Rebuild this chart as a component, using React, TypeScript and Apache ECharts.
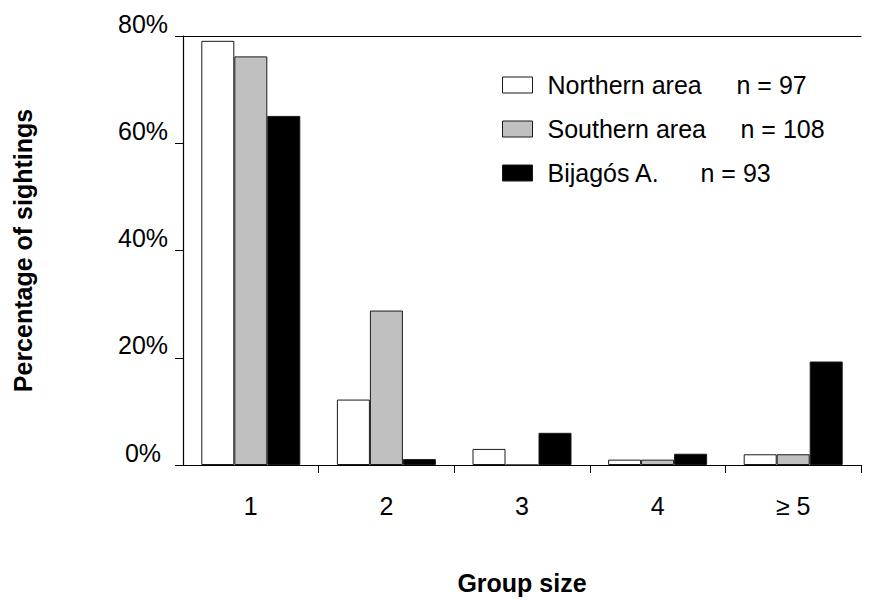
import React, { useEffect, useRef } from "react";
import * as echarts from "echarts";

const categories = ["1", "2", "3", "4", "\u2265 5"];
const northern = [79.1, 12.2, 3.0, 1.0, 2.0];
const southern = [76.2, 28.8, 0, 1.0, 2.0];
const bijagos = [65.1, 1.1, 6.0, 2.1, 19.3];
const seriesNames = ["Northern area", "Southern area", "Bijagós A."];
const seriesN = ["n = 97", "n = 108", "n = 93"];
const yTicks = [0, 20, 40, 60, 80];

const FONT = "Liberation Sans, Arial, Helvetica, sans-serif";

export default function App() {
  const ref = useRef<HTMLDivElement>(null);
  useEffect(() => {
    if (!ref.current) return;
    const chart = echarts.init(ref.current, undefined, { renderer: "svg" });
    const border = { borderColor: "#1a1a1a", borderWidth: 1 };
    const mk = (name: string, data: number[], color: string) => ({
      name,
      type: "bar",
      data,
      barWidth: 33,
      barGap: "0%",
      itemStyle: { color, ...border },
    });
    chart.setOption({
      animation: false,
      backgroundColor: "#fff",
      textStyle: { fontFamily: FONT },
      grid: { left: 183, top: 36, width: 678, height: 429 },
      legend: {
        orient: "vertical",
        left: 502,
        top: 72,
        padding: 0,
        itemWidth: 30,
        itemHeight: 16,
        itemGap: 18,
        icon: "rect",
        itemStyle: { borderColor: "#1a1a1a", borderWidth: 1 },
        formatter: (name: string) => {
          const i = seriesNames.indexOf(name);
          return `{s|}{a${i}|${name}}{b|${seriesN[i]}}`;
        },
        textStyle: {
          fontFamily: FONT,
          fontSize: 25,
          color: "#000",
          lineHeight: 26,
          rich: {
            s: { width: 10, fontSize: 25 },
            a0: { width: 189, fontSize: 25, color: "#000", fontFamily: FONT },
            a1: { width: 193, fontSize: 25, color: "#000", fontFamily: FONT },
            a2: { width: 153, fontSize: 25, color: "#000", fontFamily: FONT },
            b: { fontSize: 25, color: "#000", fontFamily: FONT },
          },
        },
        data: seriesNames,
      },
      xAxis: [
        {
          type: "category",
          data: categories,
          position: "bottom",
          axisLine: { show: true, lineStyle: { color: "#000", width: 1.2 } },
          axisTick: {
            show: true,
            length: 8,
            interval: (index: number) => index !== 0,
            lineStyle: { color: "#000" },
          },
          axisLabel: {
            fontSize: 25,
            color: "#000",
            fontFamily: FONT,
            margin: 28,
          },
          name: "Group size",
          nameLocation: "middle",
          nameGap: 105,
          nameTextStyle: {
            fontSize: 25,
            fontWeight: "bold",
            color: "#000",
            fontFamily: FONT,
          },
        },
        {
          type: "category",
          data: categories,
          position: "top",
          axisLine: { show: true, lineStyle: { color: "#000", width: 1.2 } },
          axisTick: { show: false },
          axisLabel: { show: false },
        },
      ],
      yAxis: {
        type: "value",
        min: yTicks[0],
        max: yTicks[yTicks.length - 1],
        interval: 20,
        axisLine: { show: true, lineStyle: { color: "#000", width: 1.2 } },
        axisTick: { show: true, length: 8, lineStyle: { color: "#000" } },
        splitLine: { show: false },
        axisLabel: {
          formatter: "{value}%",
          fontSize: 25,
          color: "#000",
          fontFamily: FONT,
          align: "center",
          verticalAlign: "bottom",
          margin: 40,
        },
        name: "Percentage of sightings",
        nameLocation: "middle",
        nameRotate: 90,
        nameGap: 148,
        nameTextStyle: {
          fontSize: 25,
          fontWeight: "bold",
          color: "#000",
          fontFamily: FONT,
        },
      },
      series: [
        mk(seriesNames[0], northern, "#ffffff"),
        mk(seriesNames[1], southern, "#c0c0c0"),
        mk(seriesNames[2], bijagos, "#000000"),
      ],
    });
    return () => chart.dispose();
  }, []);
  return (
    <div
      ref={ref}
      style={{ position: "fixed", left: 0, top: 0, width: 869, height: 601 }}
    />
  );
}
